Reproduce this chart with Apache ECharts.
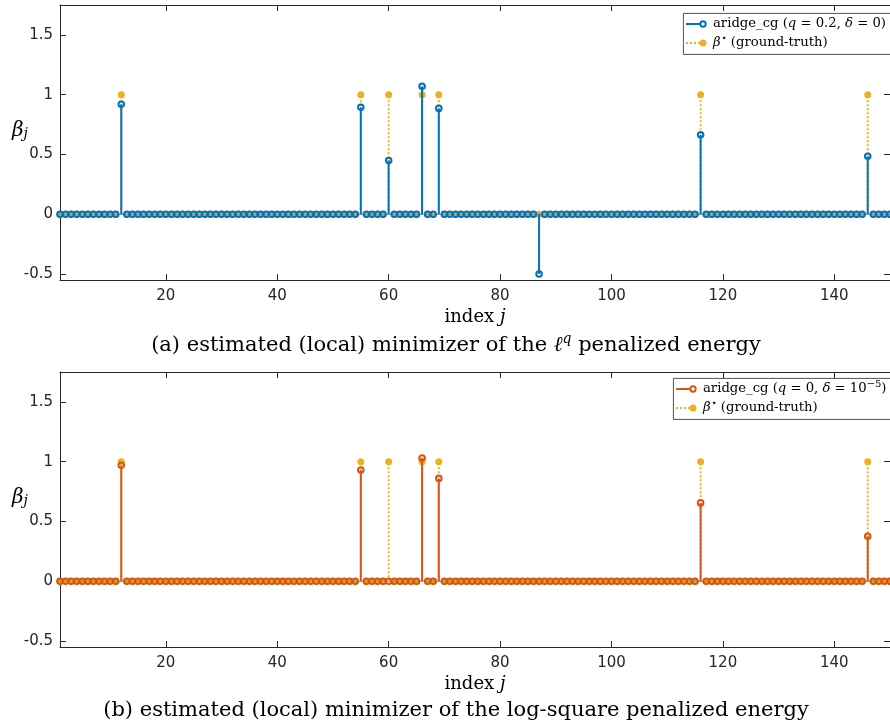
<!DOCTYPE html>
<html>
<head>
<meta charset="utf-8">
<script src="https://cdn.jsdelivr.net/npm/echarts@6/dist/echarts.min.js"></script>
<style>
html,body{margin:0;padding:0;background:#fff;}
#chart{width:890px;height:725px;}
</style>
</head>
<body>
<div id="chart"></div>
<script>
// ---- data ----
const indexJ = Array.from({ length: 150 }, (_, i) => i + 1);      // j = 1..150
const supportIdx      = [12,   55,    60,   66,   69,    87,   116,   146];
const betaTrueSupport = [1,    1,     1,    1,    1,     0,    1,     1];
const betaLqSupport   = [0.92, 0.895, 0.45, 1.07, 0.885, -0.5, 0.664, 0.485];
const betaLogSupport  = [0.97, 0.93,  0,    1.03, 0.86,  0,    0.655, 0.376];
const xTicks = [20, 40, 60, 80, 100, 120, 140];
const yTicks = [-0.5, 0, 0.5, 1, 1.5];

// full-length vectors (zeros off the support)
function fullVector(vals) {
  const v = indexJ.map(() => 0);
  supportIdx.forEach((j, k) => { v[j - 1] = vals[k]; });
  return indexJ.map((j, i) => [j, v[i]]);
}
const trueData = fullVector(betaTrueSupport);
const lqData = fullVector(betaLqSupport);
const logData = fullVector(betaLogSupport);

const BLUE = '#0072BD', RED = '#D95319', YEL = '#EDB120';
const AX = '#262626';
const SERIF = '"DejaVu Serif", "Liberation Serif", serif';
const SANS = '"DejaVu Sans", sans-serif';

function stemRender(color, opt) {
  return function (params, api) {
    const x = api.value(0), y = api.value(1);
    const base = api.coord([x, 0]);
    const tip = api.coord([x, y]);
    const children = [];
    if (opt.baseline) {
      const a = api.coord([x - 0.5, 0]), b = api.coord([x + 0.5, 0]);
      children.push({ type: 'line', z2: 0, shape: { x1: a[0], y1: a[1], x2: b[0], y2: b[1] },
        style: { stroke: '#8c8c8c', lineWidth: 1 } });
    }
    if (y !== 0) {
      children.push({ type: 'line', z2: 1, shape: { x1: base[0], y1: base[1], x2: tip[0], y2: tip[1] },
        style: { stroke: color, lineWidth: opt.lw, lineDash: opt.dash || null, lineCap: 'butt' } });
    }
    children.push({ type: 'circle', z2: 5, shape: { cx: tip[0], cy: tip[1], r: opt.r },
      style: opt.filled ? { fill: color } : { fill: 'none', stroke: color, lineWidth: opt.ringW } });
    return { type: 'group', children };
  };
}

function axesFor(gi) {
  const xs = [
    { type: 'value', gridIndex: gi, min: 1, max: 150, position: 'bottom',
      axisLine: { show: true, onZero: false, lineStyle: { color: AX, width: 1 } },
      axisTick: { show: true, inside: true, length: 6, customValues: xTicks, lineStyle: { color: AX } },
      axisLabel: { show: true, customValues: xTicks, margin: 9, color: AX, fontFamily: SANS, fontSize: 15 },
      splitLine: { show: false },
      name: '{r|index }{i|j}', nameLocation: 'middle', nameGap: 28,
      nameTextStyle: { rich: {
        r: { fontFamily: SERIF, fontSize: 18, color: '#000' },
        i: { fontFamily: SERIF, fontSize: 18, fontStyle: 'italic', color: '#000' } } } },
    { type: 'value', gridIndex: gi, min: 1, max: 150, position: 'top',
      axisLine: { show: true, onZero: false, lineStyle: { color: AX, width: 1 } },
      axisTick: { show: true, inside: true, length: 6, customValues: xTicks, lineStyle: { color: AX } },
      axisLabel: { show: false }, splitLine: { show: false } }
  ];
  const ys = [
    { type: 'value', gridIndex: gi, min: -0.55, max: 1.75, position: 'left',
      axisLine: { show: true, onZero: false, lineStyle: { color: AX, width: 1 } },
      axisTick: { show: true, inside: true, length: 6, customValues: yTicks, lineStyle: { color: AX } },
      axisLabel: { show: true, customValues: yTicks, margin: 7, color: AX, fontFamily: SANS, fontSize: 15,
        formatter: v => String(v) },
      splitLine: { show: false } },
    { type: 'value', gridIndex: gi, min: -0.55, max: 1.75, position: 'right',
      axisLine: { show: true, onZero: false, lineStyle: { color: AX, width: 1 } },
      axisTick: { show: true, inside: true, length: 6, customValues: yTicks, lineStyle: { color: AX } },
      axisLabel: { show: false }, splitLine: { show: false } }
  ];
  return { xs, ys };
}
const a0 = axesFor(0), a1 = axesFor(1);

function seriesFor(gi, estData, color, name) {
  return [
    { type: 'custom', name: 'β* (ground-truth)', xAxisIndex: gi * 2, yAxisIndex: gi * 2, z: 2,
      data: trueData, encode: { x: 0, y: 1 }, clip: false,
      renderItem: stemRender(YEL, { lw: 2, dash: [2, 2], r: 3.5, filled: true }) },
    { type: 'custom', name: name, xAxisIndex: gi * 2, yAxisIndex: gi * 2, z: 3,
      data: estData, encode: { x: 0, y: 1 }, clip: false,
      renderItem: stemRender(color, { lw: 2, r: 2.8, filled: false, ringW: 2, baseline: true }) }
  ];
}

const rich = {
  r: { fontFamily: SERIF, fontSize: 13.2, color: '#000', lineHeight: 20 },
  i: { fontFamily: SERIF, fontSize: 13.2, fontStyle: 'italic', color: '#000', lineHeight: 20 },
  s: { fontFamily: SERIF, fontSize: 10, color: '#000', verticalAlign: 'top', lineHeight: 12 },
};
const capRich = {
  r: { fontFamily: SERIF, fontSize: 21, color: '#000', lineHeight: 28 },
  i: { fontFamily: SERIF, fontSize: 21, fontStyle: 'italic', color: '#000', lineHeight: 28 },
  s: { fontFamily: SERIF, fontSize: 14, fontStyle: 'italic', color: '#000', verticalAlign: 'top', lineHeight: 16 },
};
const ylRich = {
  b: { fontFamily: SERIF, fontSize: 20, fontStyle: 'italic', color: '#000' },
  j: { fontFamily: SERIF, fontSize: 14, fontStyle: 'italic', color: '#000', verticalAlign: 'bottom' },
};

function legend(x, y, color, label1) {
  const h = 41;
  return [
    { type: 'rect', left: x, top: y, shape: { x: 0, y: 0, width: 240, height: h },
      style: { fill: '#fff', stroke: AX, lineWidth: 0.8 }, z: 10 },
    { type: 'line', shape: { x1: x + 3, y1: y + 11, x2: x + 20, y2: y + 11 }, style: { stroke: color, lineWidth: 2 }, z: 11 },
    { type: 'circle', shape: { cx: x + 20, cy: y + 11, r: 2.7 }, style: { fill: '#fff', stroke: color, lineWidth: 1.9 }, z: 11 },
    { type: 'text', x: x + 30, y: y + 11, style: { text: label1, rich: rich, verticalAlign: 'middle' }, z: 11 },
    { type: 'line', shape: { x1: x + 3, y1: y + 30, x2: x + 20, y2: y + 30 }, style: { stroke: YEL, lineWidth: 2, lineDash: [2, 2] }, z: 11 },
    { type: 'circle', shape: { cx: x + 20, cy: y + 30, r: 3.5 }, style: { fill: YEL }, z: 11 },
    { type: 'text', x: x + 30, y: y + 30, style: { text: '{i|β}{s|⋆}{r| (ground-truth)}', rich: rich, verticalAlign: 'middle' }, z: 11 }
  ];
}

const option = {
  animation: false,
  backgroundColor: '#fff',
  grid: [
    { left: 60, right: -5, top: 5, height: 275, containLabel: false },
    { left: 60, right: -5, top: 372, height: 275, containLabel: false }
  ],
  xAxis: [...a0.xs, ...a1.xs].map((ax, i) => Object.assign(ax, { gridIndex: i < 2 ? 0 : 1 })),
  yAxis: [...a0.ys, ...a1.ys].map((ax, i) => Object.assign(ax, { gridIndex: i < 2 ? 0 : 1 })),
  series: [
    ...seriesFor(0, lqData, BLUE, 'aridge_cg (q = 0.2, δ = 0)'),
    ...seriesFor(1, logData, RED, 'aridge_cg (q = 0, δ = 10^-5)')
  ],
  graphic: [
    ...legend(683, 13, BLUE, '{r|aridge_cg (}{i|q}{r| = 0.2, }{i|δ}{r| = 0)}'),
    ...legend(673, 378, RED, '{r|aridge_cg (}{i|q}{r| = 0, }{i|δ}{r| = 10}{s|−5}{r|)}'),
    { type: 'text', x: 20, y: 131, style: { text: '{b|β}{j|j}', rich: ylRich, align: 'center', verticalAlign: 'middle' } },
    { type: 'text', x: 20, y: 498, style: { text: '{b|β}{j|j}', rich: ylRich, align: 'center', verticalAlign: 'middle' } },
    { type: 'text', x: 456, y: 346, style: { text: '{r|(a) estimated (local) minimizer of the }{i|ℓ}{s|q}{r| penalized energy}', rich: capRich, align: 'center', verticalAlign: 'middle' } },
    { type: 'text', x: 456, y: 711, style: { text: '{r|(b) estimated (local) minimizer of the log-square penalized energy}', rich: capRich, align: 'center', verticalAlign: 'middle' } }
  ]
};

const chart = echarts.init(document.getElementById('chart'), null, { renderer: 'canvas' });
chart.setOption(option);
</script>
</body>
</html>
